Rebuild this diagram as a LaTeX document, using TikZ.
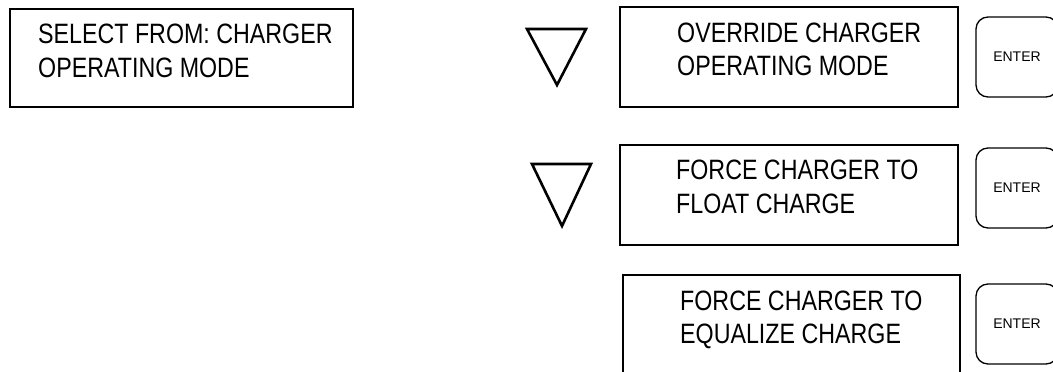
\documentclass[tikz,border=0pt]{standalone}
\usepackage{fontspec}
\newfontfamily\lcdfont[FakeStretch=0.83]{Liberation Sans}
\newfontfamily\btnfont{Liberation Sans}
\begin{document}
\begin{tikzpicture}[x=1pt,y=-1pt,
  dispbox/.style={draw, line width=2pt, minimum width=#1, minimum height=100pt, inner sep=0pt},
  dispbox/.default=338pt,
  lcdtext/.style={anchor=base west, inner sep=0pt, font=\lcdfont\fontsize{28}{34}\selectfont},
  enterbtn/.style={draw, line width=1.3pt, rounded corners=12pt, minimum width=82pt, minimum height=80pt, inner sep=0pt, font=\btnfont\fontsize{14}{16}\selectfont},
  tri/.style={draw, line width=2.6pt, line join=miter}]
\useasboundingbox (0,0) rectangle (1053,372);
\clip (0,0) rectangle (1053,372);
\fill[white] (0,0) rectangle (1053,372);
% left box
\node[dispbox=343pt, minimum height=98pt] (sel) at (181.5,57.5) {};
\node[lcdtext] (sel1) at (38,43) {SELECT FROM: CHARGER};
\node[lcdtext] (sel2) at (38,77) {OPERATING MODE};
% override
\node[dispbox] (ovr) at (789,57) {};
\node[lcdtext] (ovr1) at (677,42) {OVERRIDE CHARGER};
\node[lcdtext] (ovr2) at (677,75) {OPERATING MODE};
\node[enterbtn] (ent1) at (1017,57) {ENTER};
% float
\node[dispbox] (flt) at (789,195) {};
\node[lcdtext] (flt1) at (676,179) {FORCE CHARGER TO};
\node[lcdtext] (flt2) at (676,213) {FLOAT CHARGE};
\node[enterbtn] (ent2) at (1017,188) {ENTER};
% equalize
\node[dispbox=337pt, minimum height=110pt] (equ) at (791.5,330) {};
\node[lcdtext] (equ1) at (680,310) {FORCE CHARGER TO};
\node[lcdtext] (equ2) at (680,343) {EQUALIZE CHARGE};
\node[enterbtn] (ent3) at (1017,324) {ENTER};
% down triangles
\draw[tri] (527,29) -- (586,29) -- (557,85) -- cycle;
\draw[tri] (532,164) -- (591,164) -- (562,226) -- cycle;
\end{tikzpicture}
\end{document}
